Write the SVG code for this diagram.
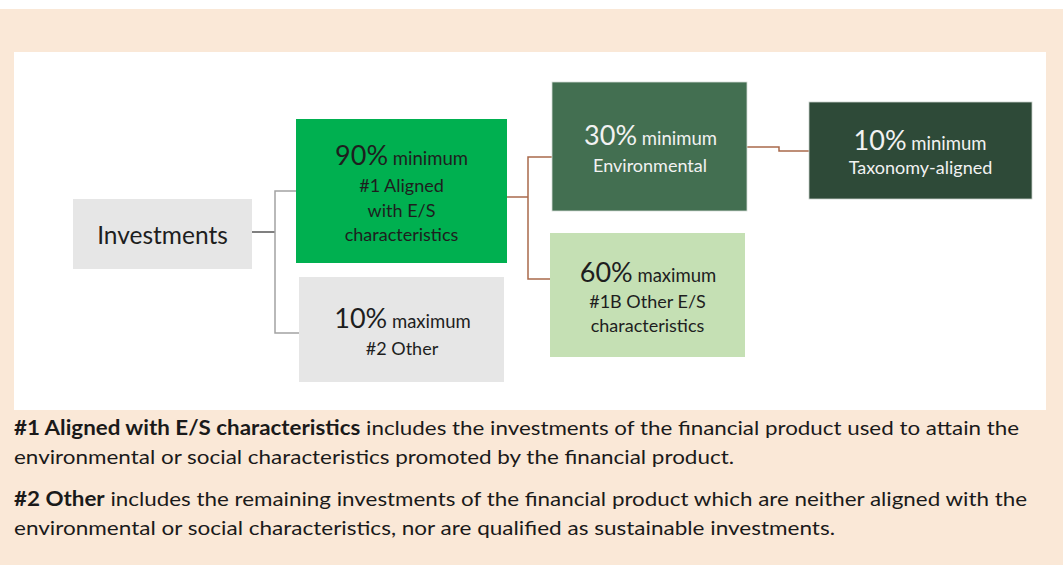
<svg xmlns="http://www.w3.org/2000/svg" width="1063" height="565" viewBox="0 0 1063 565">
<style>
.t{font-family:Lato,"Open Sans","Liberation Sans",sans-serif;text-anchor:middle}
.big{font-size:27px}
.sm{font-size:18.5px}
.ln{font-size:18px}
.dark{fill:#1e1e1e}
.light{fill:#f2f2f2}
.body{font-family:Lato,"Open Sans","Liberation Sans",sans-serif;font-size:20px;fill:#1a1a1a}
.gray{fill:none;stroke:#a3a3a3;stroke-width:1.5}
.brown{fill:none;stroke:#a9694b;stroke-width:1.5}
</style>
<rect x="0" y="0" width="1063" height="565" fill="#ffffff"/>
<rect x="0" y="9" width="1063" height="556" fill="#fae8d7"/>
<rect x="14" y="52" width="1032" height="358" fill="#ffffff"/>
<g id="connectors">
<path d="M252,232 H275" fill="none" stroke="#808080" stroke-width="2"/>
<path class="gray" d="M296,191 H275 V333 H299"/>
<path class="brown" d="M507,197 H528"/>
<path class="brown" d="M552,157 H528 V279 H550"/>
<path class="brown" d="M747,147 H779 V151 H809"/>
</g>
<g id="investments">
<rect x="73" y="199" width="179" height="70" fill="#e6e6e6"/>
<text class="t dark" x="162.5" y="244" font-size="24.5">Investments</text>
</g>
<g id="aligned">
<rect x="296" y="119" width="211" height="144" fill="#00b050"/>
<text class="t dark" x="401.5" y="165"><tspan class="big">90%</tspan><tspan class="sm"> minimum</tspan></text>
<text class="t dark ln" x="401.5" y="192">#1 Aligned</text>
<text class="t dark ln" x="401.5" y="216.5">with E/S</text>
<text class="t dark ln" x="401.5" y="240.5">characteristics</text>
</g>
<g id="other">
<rect x="299" y="277" width="205" height="105" fill="#e6e6e6"/>
<text class="t dark" x="402.5" y="328"><tspan class="big">10%</tspan><tspan class="sm"> maximum</tspan></text>
<text class="t dark ln" x="402" y="355">#2 Other</text>
</g>
<g id="environmental">
<rect x="552" y="82" width="195" height="129" fill="#436f51" stroke="#d5ddd7" stroke-width="0.8"/>
<text class="t light" x="650.5" y="145"><tspan class="big">30%</tspan><tspan class="sm"> minimum</tspan></text>
<text class="t light ln" x="650" y="171.5">Environmental</text>
</g>
<g id="taxonomy">
<rect x="809" y="102" width="223" height="97" fill="#2e4a38" stroke="#c8d0ca" stroke-width="0.8"/>
<text class="t light" x="920" y="150"><tspan class="big">10%</tspan><tspan class="sm"> minimum</tspan></text>
<text class="t light ln" x="920.5" y="174">Taxonomy-aligned</text>
</g>
<g id="other-es">
<rect x="550" y="233" width="195" height="124" fill="#c5e0b4"/>
<text class="t dark" x="648" y="281.5"><tspan class="big">60%</tspan><tspan class="sm"> maximum</tspan></text>
<text class="t dark ln" x="647.5" y="308">#1B Other E/S</text>
<text class="t dark ln" x="647.5" y="331.5">characteristics</text>
</g>
<g id="notes">
<text class="body" x="14" y="435" textLength="1005" lengthAdjust="spacingAndGlyphs"><tspan font-weight="bold">#1 Aligned with E/S characteristics</tspan> includes the investments of the financial product used to attain the</text>
<text class="body" x="14" y="464" textLength="720" lengthAdjust="spacingAndGlyphs">environmental or social characteristics promoted by the financial product.</text>
<text class="body" x="14" y="506" textLength="1013" lengthAdjust="spacingAndGlyphs"><tspan font-weight="bold">#2 Other</tspan> includes the remaining investments of the financial product which are neither aligned with the</text>
<text class="body" x="14" y="535" textLength="821" lengthAdjust="spacingAndGlyphs">environmental or social characteristics, nor are qualified as sustainable investments.</text>
</g>
</svg>
